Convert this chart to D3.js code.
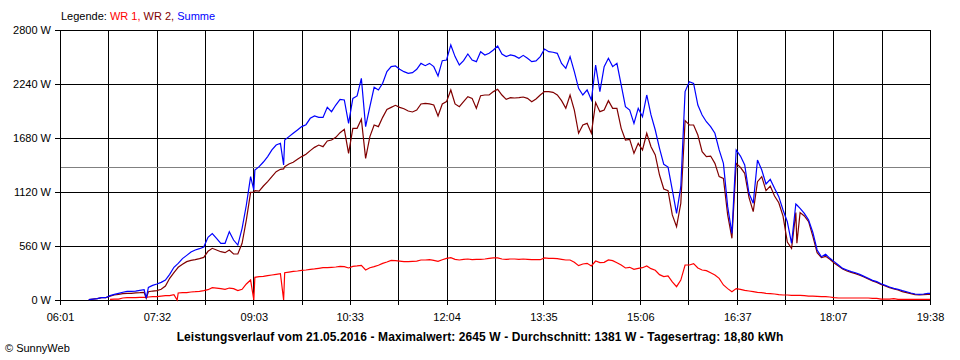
<!DOCTYPE html>
<html><head><meta charset="utf-8">
<script src="https://cdn.jsdelivr.net/npm/d3@7"></script>
<style>
body{margin:0;background:#fff}
svg text{font-family:"Liberation Sans",Arial,sans-serif;font-size:11px;fill:#000}
</style>
</head><body>
<svg id="chart" width="960" height="360"></svg>
<script>
// time of each sample, minutes since midnight
const times = [
 388,392,396,400,404,408,412,416,420,424,
 428,432,436,440,442,444,448,452,456,460,
 464,468,471,472,476,480,484,488,492,496,
 500,504,508,512,516,520,524,528,532,536,
 540,543,544,548,552,556,560,564,568,571,
 572,576,580,584,588,592,596,600,604,608,
 612,616,620,624,628,632,636,640,644,648,
 652,656,660,664,668,672,676,680,684,688,
 692,696,700,704,708,712,716,720,724,728,
 732,736,740,744,748,752,756,760,764,768,
 772,776,780,784,788,792,796,800,804,808,
 812,816,820,824,828,832,836,840,844,848,
 852,856,860,864,868,872,876,880,884,888,
 892,896,900,904,908,912,916,920,924,928,
 932,936,940,944,948,952,956,960,964,968,
 972,976,980,984,988,992,996,1000,1004,1008,
 1012,1016,1020,1024,1028,1032,1036,1040,1044,1048,
 1052,1053,1056,1060,1064,1068,1072,1076,1080,1084,
 1088,1092,1096,1100,1104,1108,1112,1116,1120,1124,
 1128,1132,1136,1140,1144,1148,1152,1156,1160,1164,
 1168,1172,1176,1178
];
// WR 1 (W)
const wr1 = [
 null,null,null,null,null,7,10,10,21,24,
 24,24,28,28,28,31,35,35,41,45,
 45,55,0,73,76,76,83,86,90,97,
 107,128,124,118,111,124,118,97,111,166,
 207,0,235,242,245,252,259,266,273,0,
 283,290,297,301,308,311,318,322,328,335,
 335,339,342,349,346,332,349,353,360,311,
 335,346,360,380,394,411,408,404,398,398,
 401,404,415,415,418,411,401,418,432,439,
 422,415,422,425,418,422,422,425,432,436,
 436,425,422,425,425,422,425,422,418,418,
 418,436,432,432,429,422,415,415,391,356,
 373,380,353,404,387,391,415,408,387,363,
 332,339,318,328,335,353,325,308,263,242,
 249,187,138,207,363,363,377,332,311,304,
 283,259,225,156,118,86,118,111,100,93,
 86,80,76,69,66,62,55,52,52,48,
 48,48,48,45,41,41,38,35,35,31,
 24,21,21,21,21,21,21,21,21,17,
 17,10,10,10,14,7,7,7,7,7,
 7,7,7,7
];
// WR 2 (W)
const wr2 = [
 3,10,14,24,24,40,52,59,66,69,
 69,73,76,80,17,86,93,97,111,145,
 225,283,325,339,370,398,411,418,429,442,
 505,536,519,501,491,519,477,477,588,830,
 1117,1120,1134,1130,1182,1227,1279,1331,1355,1360,
 1383,1410,1428,1459,1487,1511,1549,1583,1607,1590,
 1649,1659,1687,1735,1770,1521,1780,1780,1874,1469,
 1694,1815,1798,1894,1977,1998,2019,1998,1984,1960,
 1950,1970,2033,2040,2033,2022,1908,2033,2057,2178,
 2033,2005,2057,2109,2091,1988,2119,2126,2126,2161,
 2185,2126,2081,2098,2095,2098,2105,2091,2057,2085,
 2126,2161,2161,2154,2126,2067,1988,2126,1970,1729,
 1815,1832,1729,2047,1953,1970,2067,1988,1988,1780,
 1659,1666,1521,1625,1556,1729,1590,1504,1296,1151,
 1134,882,761,1003,1860,1815,1815,1711,1538,1487,
 1493,1417,1279,1260,882,640,1417,1376,1314,1065,
 916,1227,1279,1134,1182,1079,1009,870,600,536,
 906,588,906,871,812,660,491,439,453,422,
 384,353,322,301,287,273,256,239,218,197,
 183,162,145,128,114,104,86,76,66,55,
 52,55,59,59
];
// Summe (W)
const summe = [
 3,10,14,24,24,45,59,69,80,90,
 90,93,100,107,20,131,152,166,183,207,
 266,339,370,380,429,463,498,519,532,550,
 650,688,640,588,588,709,622,570,743,985,
 1279,1141,1348,1383,1431,1487,1556,1607,1625,1400,
 1659,1694,1729,1763,1798,1818,1884,1908,1894,1894,
 1998,1953,2022,2081,2074,1832,2090,2116,2299,1798,
 2005,2206,2178,2247,2368,2420,2427,2392,2368,2351,
 2358,2392,2454,2430,2454,2420,2323,2482,2489,2645,
 2524,2437,2482,2551,2489,2472,2575,2541,2558,2593,
 2634,2551,2524,2541,2531,2506,2537,2506,2472,2479,
 2524,2603,2575,2569,2558,2454,2403,2524,2368,2195,
 2126,2178,2074,2437,2161,2420,2506,2420,2454,2230,
 2005,1970,1832,1988,1901,2126,1919,1763,1573,1407,
 1379,1141,899,1175,2161,2264,2247,2022,1919,1849,
 1798,1729,1556,1417,968,691,1556,1493,1400,1106,
 1003,1452,1348,1203,1251,1158,1072,933,812,588,
 996,985,951,899,830,700,519,449,474,432,
 398,363,328,311,294,283,266,245,225,204,
 190,169,152,135,121,111,97,86,73,62,
 59,62,69,69
];
const xTickLabels = ["06:01","07:32","09:03","10:33","12:04","13:35","15:06","16:37","18:07","19:38"];
const yTicks = [0,560,1120,1680,2240,2800];
const averageW = 1381;
const seriesNames = ["WR 1","WR 2","Summe"];
const seriesColors = ["#ff0000","#800000","#0000ff"];
const titleText = "Leistungsverlauf vom 21.05.2016 - Maximalwert: 2645 W - Durchschnitt: 1381 W - Tagesertrag: 18,80 kWh";
const creditText = "\u00A9 SunnyWeb";

const toMin = s => { const [h,m] = s.split(":").map(Number); return h*60+m; };
const majors = xTickLabels.map(toMin);
const svg = d3.select("#chart");
const L = 60, R = 930, T = 30, B = 300;
const x = d3.scaleLinear().domain([majors[0], majors[majors.length-1]]).range([L, R]);
const y = d3.scaleLinear().domain([0, 2800]).range([B, T]);
const px = v => Math.round(v) + 0.5;

// grid positions: major ticks and midpoints
const xDom = x.domain();
const gridT = d3.range(19).map(i => xDom[0] + i*(xDom[1]-xDom[0])/18);

const g = svg.append("g").attr("shape-rendering","crispEdges");
g.selectAll(".vg").data(gridT).join("line")
  .attr("x1", d => px(x(d))).attr("x2", d => px(x(d)))
  .attr("y1", T).attr("y2", B + 5)
  .attr("stroke", "#000").attr("stroke-width", 1);
g.selectAll(".hg").data(yTicks).join("line")
  .attr("x1", L - 5).attr("x2", R + 0.5)
  .attr("y1", d => px(y(d))).attr("y2", d => px(y(d)))
  .attr("stroke", "#000").attr("stroke-width", 1);
// average line
g.append("line")
  .attr("x1", L + 1).attr("x2", R)
  .attr("y1", px(y(averageW))).attr("y2", px(y(averageW)))
  .attr("stroke", "#808080").attr("stroke-width", 1);

// axis labels
svg.selectAll(".yl").data(yTicks).join("text")
  .attr("x", 51).attr("y", d => y(d) + 4)
  .attr("text-anchor", "end").text(d => d + " W");
svg.selectAll(".xl").data(xTickLabels).join("text")
  .attr("x", d => x(toMin(d)) + 0.5).attr("y", 321)
  .attr("text-anchor", "middle").text(d => d);

// data lines
const series = [wr1, wr2, summe];
series.forEach((vals, si) => {
  const pts = times.map((t, i) => [t, vals[i]]);
  const line = d3.line().defined(d => d[1] != null).x(d => x(d[0])).y(d => y(d[1]));
  svg.append("path").datum(pts)
    .attr("d", line).attr("fill", "none")
    .attr("stroke", seriesColors[si]).attr("stroke-width", 1.2)
    .attr("stroke-linejoin", "miter");
});

// legend
const leg = svg.append("text").attr("x", 61).attr("y", 20);
leg.append("tspan").text("Legende: ");
seriesNames.forEach((n, i) => {
  leg.append("tspan").attr("fill", seriesColors[i]).text(n + (i < seriesNames.length-1 ? ", " : ""));
});

// title and credit
svg.append("text").attr("x", 480).attr("y", 341).attr("text-anchor", "middle")
  .attr("font-weight", "bold").style("font-size", "12px").style("letter-spacing", "0.1px").text(titleText);
svg.append("text").attr("x", 5).attr("y", 352).style("font-size", "11px").text(creditText);
</script>
</body></html>
